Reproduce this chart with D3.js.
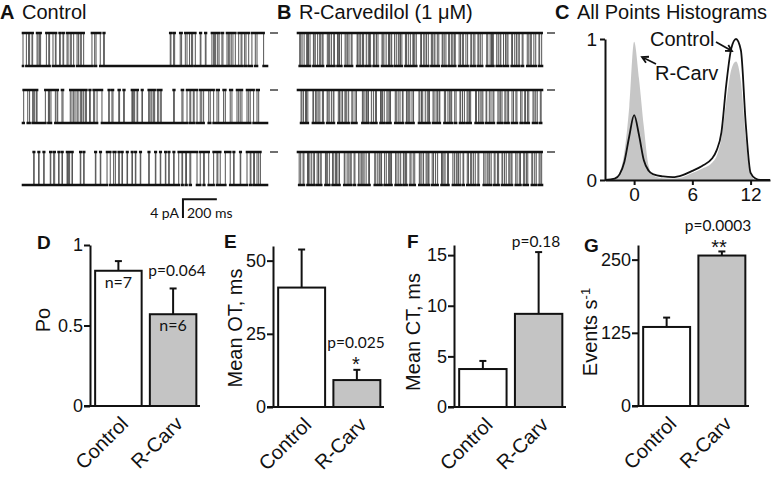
<!DOCTYPE html>
<html>
<head>
<meta charset="utf-8">
<style>
  * { margin:0; padding:0 }
  body { background:#fff; overflow:hidden; }
  svg text { font-family: "Liberation Sans", Arial, sans-serif; fill:#111; }
  svg .narrow { font-family: Lato, "Liberation Sans", sans-serif; }
  .axis path, .axis line { stroke:#111; stroke-width:2; }
</style>
<script src="https://cdnjs.cloudflare.com/ajax/libs/d3/7.8.5/d3.min.js"></script>
</head>
<body>
<script>
var width = 775, height = 481;

// ---- single channel traces (ms), control: open intervals [start, end]
var traceLength = 1440, openLevel = 7; // pA
var control1 = [[0,20],[33,39],[53,57],[83,89],[98,104],[138,152],[157,177],[191,195],[216,220],[236,240],[260,266],[279,285],[299,319],[327,338],[344,358],[407,423],[431,456],[476,480],[869,873],[889,895],[928,936],[958,968],[983,995],[1001,1017],[1046,1050],[1076,1080],[1115,1125],[1131,1137],[1149,1157],[1174,1180],[1204,1212],[1220,1229],[1239,1253],[1273,1287],[1292,1308],[1316,1332],[1351,1371],[1381,1420]];
var control2 = [[4,28],[39,57],[63,69],[79,83],[132,150],[153,157],[165,191],[201,205],[230,236],[279,289],[299,307],[319,325],[338,344],[348,358],[368,374],[393,397],[417,423],[437,466],[506,509],[525,531],[565,570],[594,598],[643,646],[653,659],[673,677],[702,705],[742,745],[755,761],[771,777],[795,798],[810,816],[889,893],[938,944],[968,985],[990,1005],[1010,1027],[1046,1055],[1066,1096],[1105,1125],[1145,1155],[1184,1194],[1223,1233],[1263,1273],[1282,1292],[1322,1332],[1341,1361],[1381,1391]];
var control3 = [[63,66],[92,95],[122,125],[161,164],[181,187],[210,213],[230,233],[260,263],[269,275],[289,292],[338,341],[358,361],[427,430],[456,459],[496,515],[535,545],[565,568],[584,587],[614,617],[643,646],[663,666],[692,695],[742,745],[781,784],[810,813],[840,843],[860,863],[889,892],[919,938],[942,960],[965,985],[990,1027],[1046,1066],[1070,1096],[1125,1145],[1150,1164],[1194,1223],[1243,1246],[1282,1285],[1322,1341],[1345,1361],[1366,1381],[1391,1401]];

// R-Carvedilol: alternating dwell times (ms), starting open
var rcarv1 = [10,6,8,12,15,5,6,9,20,4,7,14,12,6,9,5,25,8,6,10,14,4,18,7,5,11,22,6,9,8,13,5,30,4,8,9,11,6,16,12,7,5,19,7,10,9,24,5,6,13,14,6,9,4,17,10,12,5,8,8,21,6,11,12,15,4,7,9,26,5,13,7,9,11,18,6,10,5,14,9,20,4,8,10,16,6,12,7,9,5,23,8,11,6,15,10,19,5,12,7,18,5,9,11,27,6,14,8,6,5,20,9,11,4,16,12,8,6,22,5,13,10,10,7,17,5,25,9,9,6,15,11,19,4,12,8,21,6,14,9,8,5];
var rcarv2 = [18,5,9,12,6,8,30,4,12,7,8,10,15,6,22,5,7,13,11,4,26,7,9,9,14,5,6,11,19,6,13,8,35,5,10,9,8,4,17,12,12,6,24,5,7,10,16,7,9,5,28,6,11,11,14,4,20,8,6,6,13,9,32,5,10,7,15,12,8,5,21,6,12,9,9,4,27,7,14,10,7,5,18,8,23,4,11,11,16,6,8,7,29,5,13,9,10,6,19,4,15,10,12,5,24,7,9,8,17,6,11,5,20,9,14,6,22,8,16,5,12,7,25,6,10,9,18,5,13,8];
var rcarv3 = [7,9,14,5,21,6,8,11,12,4,16,8,10,6,25,5,6,12,19,7,11,5,9,9,28,4,13,10,8,6,17,5,22,8,10,7,7,12,15,5,31,6,12,9,9,4,18,10,14,6,6,5,24,8,11,11,16,4,8,7,20,6,13,9,27,5,10,10,15,6,7,4,19,8,12,12,23,5,9,7,14,6,26,9,11,5,8,10,17,4,21,7,13,6,10,11,16,5,29,8,12,6,9,9,18,5,14,7,20,4,11,10,15,6,8,5,22,8,13,7,19,6,10,8,24,5,12,9,17,6,9,7,14,6];

// ---- all points histograms
var histCurrent = [-3,-2,-1.5,-1,-0.5,0,0.5,1,1.5,2,3,4,5,6,7,8,8.5,9,9.5,10,10.5,11,11.5,12,12.5,13,14];
var histControl = [0,0.01,0.04,0.13,0.31,0.46,0.32,0.14,0.065,0.04,0.025,0.02,0.035,0.065,0.1,0.15,0.21,0.34,0.68,0.93,1.0,0.92,0.4,0.05,0.01,0,0];
var histRCarv   = [0,0.01,0.05,0.2,0.52,0.98,0.72,0.38,0.1,0.03,0.012,0.01,0.02,0.05,0.08,0.12,0.17,0.3,0.56,0.78,0.84,0.7,0.3,0.04,0,0,0];

// ---- bar summaries
var categories = ["Control", "R-Carv"];
var poMean = [0.84, 0.57], poSem = [0.06, 0.16], poN = ["n=7", "n=6"];
var otMean = [40.8, 9.2], otSem = [13, 3.5];
var ctMean = [3.75, 9.2], ctSem = [0.8, 6.1];
var evMean = [135, 257], evSem = [16, 7];
var barFill = ["#ffffff", "#c4c4c4"];

var svg = d3.select("body").append("svg")
    .attr("width", width)
    .attr("height", height);

function label(txt, x, y, size, bold, cls) {
  return svg.append("text").attr("x", x).attr("y", y)
    .attr("font-size", size).attr("font-weight", bold ? "bold" : null)
    .attr("class", cls || null).text(txt);
}

// titles
label("A", 0, 19, 20, true);
label("Control", 22, 19, 20);
label("B", 277, 19, 20, true);
label("R-Carvedilol (1 \u03bcM)", 299, 19, 20);
label("C", 555, 19, 20, true);
label("All Points Histograms", 577, 19, 20);

// ---- traces
var rowTops = [33, 90, 152];
var xA = d3.scaleLinear().domain([0, traceLength]).range([23, 267]);
var xB = d3.scaleLinear().domain([0, traceLength]).range([298, 542]);
var line = d3.line();

function rowScale(top) {
  return d3.scaleLinear().domain([0, openLevel]).range([top + 33, top]);
}

function intervalPoints(iv, x, y) {
  var pts = [[x(0), y(0)]];
  iv.forEach(function(d) {
    pts.push([x(d[0]), y(0)], [x(d[0]), y(openLevel)], [x(d[1]), y(openLevel)], [x(d[1]), y(0)]);
  });
  pts.push([x(traceLength), y(0)]);
  return pts;
}

function dwellPoints(dw, x, y) {
  var pts = [], t = 0, open = true;
  for (var i = 0; i < dw.length && t < traceLength; i++) {
    var lv = open ? openLevel : 0, t2 = Math.min(t + dw[i], traceLength);
    pts.push([x(t), y(lv)], [x(t2), y(lv)]);
    t = t2; open = !open;
  }
  return pts;
}

// dwell levels drawn heavy (noise band), transitions drawn thin
function drawTrace(pts) {
  var flat = "", steps = "";
  for (var i = 1; i < pts.length; i++) {
    var seg = line([pts[i - 1], pts[i]]);
    if (pts[i][1] === pts[i - 1][1]) flat += seg; else steps += seg;
  }
  svg.append("path").attr("d", steps).attr("fill", "none")
    .attr("stroke", "#555").attr("stroke-width", 1);
  svg.append("path").attr("d", flat).attr("fill", "none")
    .attr("stroke", "#111").attr("stroke-width", 2.6).attr("stroke-linecap", "square");
}

[control1, control2, control3].forEach(function(iv, i) {
  var y = rowScale(rowTops[i]);
  drawTrace(intervalPoints(iv, xA, y));
  svg.append("line").attr("x1", 270).attr("x2", 278).attr("y1", y(openLevel)).attr("y2", y(openLevel))
    .attr("stroke", "#222").attr("stroke-width", 1.3);
});
[rcarv1, rcarv2, rcarv3].forEach(function(dw, i) {
  var y = rowScale(rowTops[i]);
  drawTrace(dwellPoints(dw, xB, y));
  svg.append("line").attr("x1", 547).attr("x2", 555).attr("y1", y(openLevel)).attr("y2", y(openLevel))
    .attr("stroke", "#222").attr("stroke-width", 1.3);
});

// scale bar: 4 pA, 200 ms
var ySb = d3.scaleLinear().domain([0, openLevel]).range([218, 218 - 33]);
svg.append("path")
  .attr("d", line([[xA(944), ySb(0)], [xA(944), ySb(4)], [xA(1144), ySb(4)]]))
  .attr("fill", "none").attr("stroke", "#111").attr("stroke-width", 2);
label("4 pA", 179, 218, 14, false, "narrow").attr("text-anchor", "end");
label("200 ms", 187, 218, 14, false, "narrow");

// ---- C histogram
var xH = d3.scaleLinear().domain([-3, 14]).range([605, 770]);
var yH = d3.scaleLinear().domain([0, 1]).range([180, 39]);
var ctrlPts = histCurrent.map(function(c, i) { return [c, histControl[i]]; });
var rcPts = histCurrent.map(function(c, i) { return [c, histRCarv[i]]; });
svg.append("path")
  .attr("d", d3.area().x(function(d) { return xH(d[0]); }).y0(yH(0)).y1(function(d) { return yH(d[1]); })
    .curve(d3.curveMonotoneX)(rcPts))
  .attr("fill", "#c6c6c6");
svg.append("path")
  .attr("d", d3.line().x(function(d) { return xH(d[0]); }).y(function(d) { return yH(d[1]); })
    .curve(d3.curveMonotoneX)(ctrlPts))
  .attr("fill", "none").attr("stroke", "#111").attr("stroke-width", 1.8);

var gHx = svg.append("g").attr("class", "axis").attr("transform", "translate(0," + yH(0) + ")")
  .call(d3.axisBottom(xH).tickValues([0, 6, 12]).tickSize(5).tickSizeOuter(0).tickPadding(3));
var gHy = svg.append("g").attr("class", "axis").attr("transform", "translate(" + xH(-3) + ",0)")
  .call(d3.axisLeft(yH).tickValues([0, 1]).tickFormat(d3.format("d")).tickSize(5).tickSizeOuter(0).tickPadding(3));
[gHx, gHy].forEach(function(g) {
  g.selectAll("text").attr("font-size", 19).attr("font-family", "'Liberation Sans', Arial, sans-serif").attr("fill", "#111");
});

label("Control", 650, 46, 20);
label("R-Carv", 655, 80, 20);

function arrow(x1, y1, x2, y2) {
  var a = Math.atan2(y2 - y1, x2 - x1), h = 7;
  svg.append("path")
    .attr("d", line([[x1, y1], [x2, y2]]) + line([
      [x2 - h * Math.cos(a - 0.5), y2 - h * Math.sin(a - 0.5)], [x2, y2],
      [x2 - h * Math.cos(a + 0.5), y2 - h * Math.sin(a + 0.5)]]))
    .attr("fill", "none").attr("stroke", "#111").attr("stroke-width", 1.8);
}
arrow(716, 42, 732, 51);
arrow(656, 64, 642, 57);

// ---- bar panels D-G
function barPanel(o) {
  var y = d3.scaleLinear().domain([0, o.max]).range([o.y0, o.yTop]);
  var x = d3.scaleBand().domain(categories).range(o.band).paddingInner(0.15).paddingOuter(0.03);
  var bw = x.bandwidth();

  svg.selectAll(null).data(categories).enter().append("rect")
    .attr("x", function(d) { return x(d); })
    .attr("y", function(d, i) { return y(o.mean[i]); })
    .attr("width", bw)
    .attr("height", function(d, i) { return y(0) - y(o.mean[i]); })
    .attr("fill", function(d, i) { return barFill[i]; })
    .attr("stroke", "#111").attr("stroke-width", 2);

  var eb = svg.selectAll(null).data(categories).enter().append("g")
    .attr("transform", function(d) { return "translate(" + (x(d) + bw / 2) + ",0)"; });
  eb.append("line").attr("y1", function(d, i) { return y(o.mean[i]); })
    .attr("y2", function(d, i) { return y(o.mean[i] + o.sem[i]); })
    .attr("stroke", "#111").attr("stroke-width", 2);
  eb.append("line").attr("x1", -3.5).attr("x2", 3.5)
    .attr("y1", function(d, i) { return y(o.mean[i] + o.sem[i]); })
    .attr("y2", function(d, i) { return y(o.mean[i] + o.sem[i]); })
    .attr("stroke", "#111").attr("stroke-width", 2);

  var gy = svg.append("g").attr("class", "axis").attr("transform", "translate(" + o.axisX + ",0)")
    .call(d3.axisLeft(y).tickValues(o.ticks).tickFormat(d3.format("~g")).tickSize(6).tickSizeOuter(0).tickPadding(1));
  gy.selectAll("text").attr("font-size", 18).attr("font-family", "'Liberation Sans', Arial, sans-serif").attr("fill", "#111");
  svg.append("line").attr("x1", o.axisX - 6).attr("x2", o.band[1] + 2)
    .attr("y1", y(0)).attr("y2", y(0)).attr("stroke", "#111").attr("stroke-width", 2);

  svg.selectAll(null).data(categories).enter().append("text")
    .attr("text-anchor", "end").attr("font-size", 20)
    .attr("transform", function(d) { return "translate(" + (x(d) + bw / 2 + 11) + "," + (y(0) + 19) + ") rotate(-45)"; })
    .text(function(d) { return d; });

  var t = svg.append("text").attr("text-anchor", "middle").attr("font-size", 20)
    .attr("transform", "translate(" + o.labelPos[0] + "," + o.labelPos[1] + ") rotate(-90)")
    .attr("dy", "0.35em");
  o.label(t);

  label(o.letter, o.letterPos[0], o.letterPos[1], 19, true);
  return { x: x, y: y, bw: bw };
}

var pD = barPanel({ mean: poMean, sem: poSem, max: 1, ticks: [0, 0.5, 1], y0: 406, yTop: 245,
  band: [93.5, 198], axisX: 90, labelPos: [43, 320], letter: "D", letterPos: [37, 249],
  label: function(t) { t.text("Po"); } });
svg.selectAll(null).data(categories).enter().append("text").attr("class", "narrow")
  .attr("text-anchor", "middle").attr("font-size", 16)
  .attr("x", function(d) { return pD.x(d) + pD.bw / 2; })
  .attr("y", function(d, i) { return pD.y(poMean[i]) + 17; })
  .text(function(d, i) { return poN[i]; });
label("p=0.064", 177, 276, 15.5, false, "narrow").attr("text-anchor", "middle");

var pE = barPanel({ mean: otMean, sem: otSem, max: 55, ticks: [0, 25, 50], y0: 407, yTop: 246,
  band: [276.5, 382], axisX: 273, labelPos: [235, 328], letter: "E", letterPos: [224, 248],
  label: function(t) { t.text("Mean OT, ms"); } });
label("p=0.025", 356, 348, 15.5, false, "narrow").attr("text-anchor", "middle");
label("*", 356, 371, 20, false).attr("text-anchor", "middle");

var pF = barPanel({ mean: ctMean, sem: ctSem, max: 16, ticks: [0, 5, 10, 15], y0: 407, yTop: 245,
  band: [457.5, 564], axisX: 454, labelPos: [413, 332], letter: "F", letterPos: [407, 248],
  label: function(t) { t.text("Mean CT, ms"); } });
label("p=0.18", 536, 247, 15.5, false, "narrow").attr("text-anchor", "middle");

var pG = barPanel({ mean: evMean, sem: evSem, max: 275, ticks: [0, 125, 250], y0: 406, yTop: 245,
  band: [641.5, 747], axisX: 638, labelPos: [590, 332], letter: "G", letterPos: [584, 252],
  label: function(t) {
    t.append("tspan").text("Events  s");
    t.append("tspan").attr("font-size", 13).attr("dy", "-0.55em").text("-1");
  } });
label("p=0.0003", 718, 231, 15.5, false, "narrow").attr("text-anchor", "middle");
label("**", 719, 254, 20, false).attr("text-anchor", "middle");
</script>
</body>
</html>
